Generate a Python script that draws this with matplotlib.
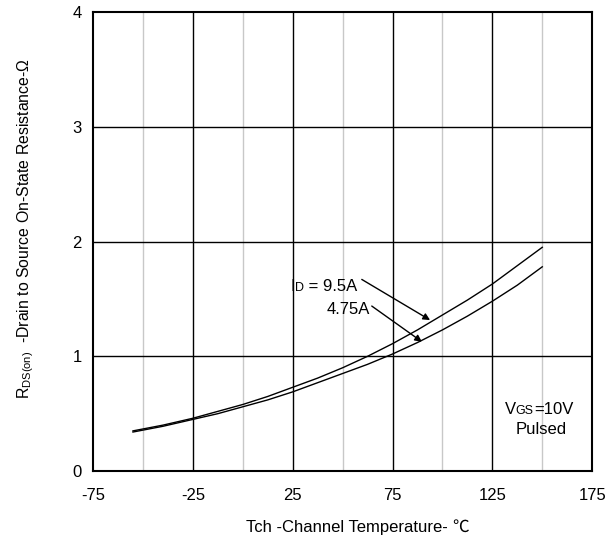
import matplotlib
matplotlib.use("Agg")
import matplotlib.pyplot as plt
from matplotlib.offsetbox import TextArea, HPacker, AnnotationBbox

plt.rcParams['font.family'] = ['Liberation Sans', 'Noto Sans CJK SC', 'DejaVu Sans']
plt.rcParams['mathtext.fontset'] = 'custom'
plt.rcParams['mathtext.rm'] = 'Liberation Sans'
plt.rcParams['axes.unicode_minus'] = False

# Channel temperature (degC) and R_DS(on) (ohm)
temp = [-55, -40, -25, -12.5, 0, 12.5, 25, 37.5, 50, 62.5, 75, 87.5, 100, 112.5, 125, 137.5, 150]
r_9_5A = [0.35, 0.40, 0.46, 0.52, 0.58, 0.65, 0.73, 0.81, 0.90, 1.00, 1.11, 1.23, 1.36, 1.49, 1.63, 1.79, 1.95]
r_4_75A = [0.34, 0.39, 0.45, 0.50, 0.56, 0.62, 0.69, 0.77, 0.85, 0.93, 1.02, 1.12, 1.23, 1.35, 1.48, 1.62, 1.78]

x_ticks = [-75, -25, 25, 75, 125, 175]
x_minor = [-50, 0, 50, 100, 150]
y_ticks = [0, 1, 2, 3, 4]

FS = 12


def packed_label(ax, parts, xy, box_alignment, coords='data'):
    # parts: list of (text, size, family); all sit on one baseline
    boxes = []
    for t, s, fam in parts:
        props = dict(size=s, color='black')
        if fam:
            props['family'] = fam
        boxes.append(TextArea(t, textprops=props))
    pack = HPacker(children=boxes, align='baseline', pad=0, sep=0)
    ab = AnnotationBbox(pack, xy, xycoords=coords, frameon=False,
                        box_alignment=box_alignment, pad=0, zorder=5,
                        annotation_clip=False)
    ax.add_artist(ab)


fig = plt.figure(figsize=(6.08, 5.49), dpi=100)
ax = fig.add_axes([0.153, 0.142, 0.821, 0.836])

# grid: light grey at the in-between lines, black at the labelled ones
for x in x_minor:
    ax.axvline(x, color='#c8c8c8', lw=1.0, zorder=1)
for x in x_ticks[1:-1]:
    ax.axvline(x, color='black', lw=1.0, zorder=1)
for y in y_ticks[1:-1]:
    ax.axhline(y, color='black', lw=1.0, zorder=1)

ax.plot(temp, r_9_5A, color='black', lw=1.0, zorder=3)
ax.plot(temp, r_4_75A, color='black', lw=1.0, zorder=3)

ax.set_xlim(-75, 175)
ax.set_ylim(0, 4)
ax.set_xticks(x_ticks)
ax.set_yticks(y_ticks)
ax.tick_params(length=0, labelsize=FS)
ax.tick_params(axis='x', pad=12)
ax.tick_params(axis='y', pad=8)
for s in ax.spines.values():
    s.set_linewidth(1.5)

# x label, with the degree sign in a CJK face like the original
packed_label(ax, [('Tch -Channel Temperature- ', FS, None),
                  ('\u2103', FS, 'Noto Sans CJK SC')],
             (0.53, -0.122), (0.5, 0.5), coords='axes fraction')

ax.set_ylabel('R$_{\\mathregular{DS(on)}}$  -Drain to Source On-State Resistance-\u03a9',
              fontsize=11.4)
ax.yaxis.set_label_coords(-0.114, 0.529)

ax.annotate('', xy=(93.8, 1.316), xytext=(59.6, 1.67),
            arrowprops=dict(arrowstyle='-|>', color='black', lw=1.0,
                            mutation_scale=10, shrinkA=0, shrinkB=0))
ax.annotate('', xy=(89.7, 1.127), xytext=(64.6, 1.438),
            arrowprops=dict(arrowstyle='-|>', color='black', lw=1.0,
                            mutation_scale=10, shrinkA=0, shrinkB=0))

packed_label(ax, [('I', FS, None), ('D', FS * 0.75, None), (' = 9.5A', FS, None)],
             (24.0, 1.606), (0, 0.5))
ax.text(42.2, 1.407, '4.75A', fontsize=FS, va='center', ha='left')

packed_label(ax, [('V', FS, None), ('GS', FS * 0.75, None), ('=10V', FS, None)],
             (148.3, 0.54), (0.5, 0.5))
ax.text(149.7, 0.366, 'Pulsed', fontsize=FS, va='center', ha='center')

fig.savefig('out.png', dpi=100)
